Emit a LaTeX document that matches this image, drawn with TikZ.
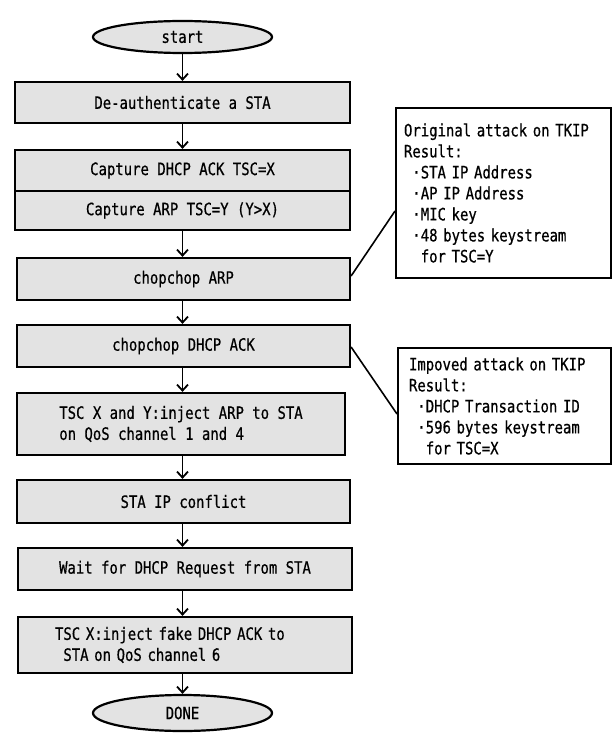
\documentclass[tikz,border=0pt]{standalone}
\usepackage{fontspec}
\setmonofont[FakeStretch=0.82,FakeBold=0.6]{DejaVu Sans Mono}
\usetikzlibrary{arrows.meta,shapes.geometric}
\begin{document}
\begin{tikzpicture}[x=1pt,y=-1pt,
  base/.style={font=\ttfamily\fontsize{17}{21}\selectfont},
  proc/.style={draw, line width=2.2pt, fill=black!11, minimum width=335pt, inner sep=0pt, align=left, base},
  term/.style={ellipse, draw, line width=2.2pt, fill=black!11, inner sep=0pt, minimum width=179pt, base},
  note/.style={draw, line width=2pt, fill=white, align=left, inner ysep=0pt, anchor=north west, base},
  arr/.style={line width=1.6pt, -{Straight Barb[length=6pt,width=11pt,line width=1.8pt]}},
  link/.style={line width=1.6pt}]
\useasboundingbox (0,0) rectangle (613,733);
\node[term, minimum height=32pt] (start) at (182.5,37) {start};
\node[proc, minimum height=41pt] (deauth) at (182.5,102.5) {De-authenticate a STA};
\node[proc, minimum height=41pt] (capA) at (182.5,170.5) {Capture DHCP ACK TSC=X};
\node[proc, minimum height=39pt] (capB) at (182.5,210.5) {Capture ARP TSC=Y (Y>X)};
\node[proc, minimum width=333pt, minimum height=42pt] (chopARP) at (183.5,279) {chopchop ARP};
\node[proc, minimum width=333pt, minimum height=42pt] (chopDHCP) at (183.5,346) {chopchop DHCP ACK};
\node[proc, minimum width=328pt, minimum height=62pt] (tscXY) at (181,424) {TSC X and Y:inject ARP to STA\\on QoS channel 1 and 4};
\node[proc, minimum width=333pt, minimum height=43pt] (staip) at (183.5,501.5) {STA IP conflict};
\node[proc, minimum width=334pt, minimum height=42pt] (wait) at (185,569) {Wait for DHCP Request from STA};
\node[proc, minimum width=334pt, minimum height=56pt, text width=260pt, inner xsep=37pt] (tscX) at (185,645) {TSC X:inject fake DHCP ACK to\\\phantom{x}STA on QoS channel 6};
\node[term, minimum height=36pt] (done) at (182.5,713) {DONE};

\node[note, minimum width=215pt, minimum height=170pt, text width=199pt, inner xsep=8pt] (orig) at (395,107)
  {Original attack on TKIP\\Result:\\\phantom{x}·STA IP Address\\\phantom{x}·AP IP Address\\\phantom{x}·MIC key\\\phantom{x}·48 bytes keystream\\\phantom{xx}for TSC=Y};
\node[note, minimum width=213pt, minimum height=116pt, text width=191pt, inner xsep=11pt] (imp) at (397,347)
  {Impoved attack on TKIP\\Result:\\\phantom{x}·DHCP Transaction ID\\\phantom{x}·596 bytes keystream\\\phantom{xx}for TSC=X};

\draw[arr] (start.south) -- (start.south |- deauth.north);
\draw[arr] (deauth.south) -- (capA.north);
\draw[arr] (capB.south) -- (capB.south |- chopARP.north);
\draw[arr] (capB.south |- chopARP.south) -- (capB.south |- chopDHCP.north);
\draw[arr] (capB.south |- chopDHCP.south) -- (capB.south |- tscXY.north);
\draw[arr] (capB.south |- tscXY.south) -- (capB.south |- staip.north);
\draw[arr] (capB.south |- staip.south) -- (capB.south |- wait.north);
\draw[arr] (capB.south |- wait.south) -- (capB.south |- tscX.north);
\draw[arr] (capB.south |- tscX.south) -- (done.north);

\draw[link] ([yshift=3pt]chopARP.east) -- ([yshift=-18pt]orig.west);
\draw[link] ([yshift=-1pt]chopDHCP.east) -- ([yshift=-8pt]imp.west);
\end{tikzpicture}
\end{document}
